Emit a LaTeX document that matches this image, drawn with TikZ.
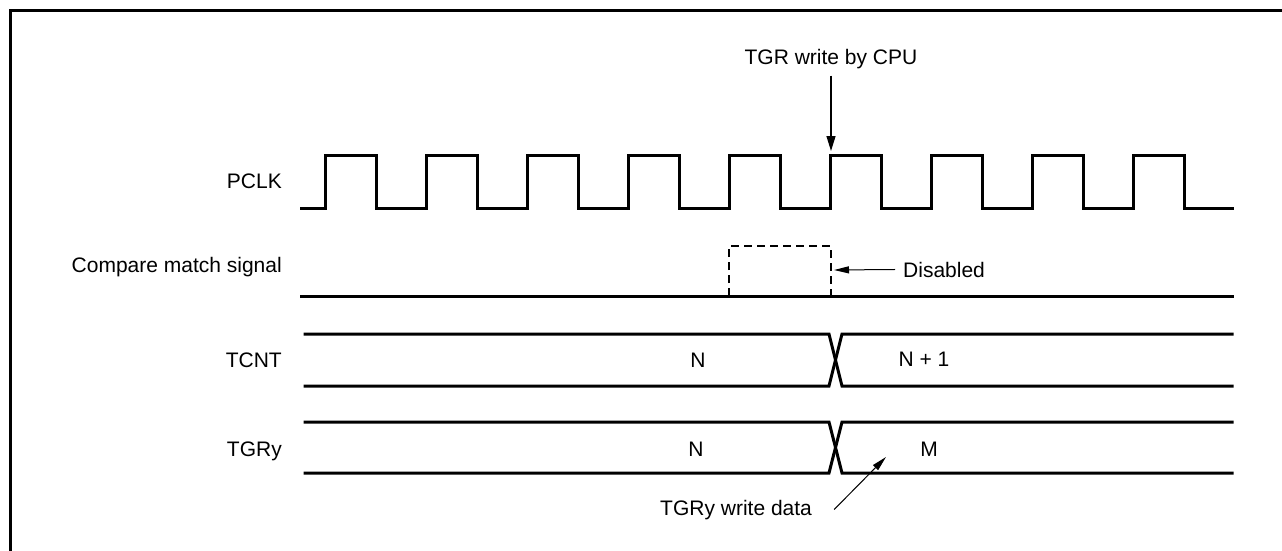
\documentclass[tikz,border=0pt]{standalone}
\usepackage{fontspec}
\setmainfont{Liberation Sans}
\usetikzlibrary{arrows.meta}

\tikzset{
  wave/.style={line width=3pt,line join=miter,line cap=rect},
  txt/.style={font=\fontsize{21}{25}\selectfont,inner sep=0pt},
  note/.style={line width=1.3pt,-{Triangle[length=15pt,width=9pt]}},
  thinnote/.style={line width=1pt,-{Triangle[length=15pt,width=7pt]}}
}

\begin{document}
\begin{tikzpicture}[x=1pt,y=-1pt]
\useasboundingbox (0,0) rectangle (1282,551);
% frame
\draw[line width=3pt] (10,551) -- (10,10.5) -- (1282,10.5);

% signal names
\node[txt,anchor=base east] (pclk) at (282,188) {PCLK};
\node[txt,anchor=base east] (cmp) at (282,272) {Compare match signal};
\node[txt,anchor=base east] (tcnt) at (282,367) {TCNT};
\node[txt,anchor=base east] (tgry) at (282,456) {TGRy};

% PCLK
\draw[wave] (301,208) \foreach \i in {0,...,8} {
  -- ({325+101*\i},208) -- ({325+101*\i},155.5) -- ({376+101*\i},155.5) -- ({376+101*\i},208)
} -- (1232,208);

% compare match signal
\draw[wave] (301,296) -- (1232,296);
\draw[line width=2pt,dashed,dash pattern=on 8pt off 5pt] (729,296) -- (729,246) -- (831,246) -- (831,296);

% TCNT
\draw[wave] (305,334) -- (829,334) -- (842,386) -- (1232,386);
\draw[wave] (305,386) -- (829,386) -- (842,334) -- (1232,334);
\node[txt,anchor=base] (tcntn) at (698,367) {N};
\node[txt,anchor=base] (tcntn1) at (924,366) {N + 1};

% TGRy
\draw[wave] (305,422) -- (829,422) -- (842,473) -- (1232,473);
\draw[wave] (305,473) -- (829,473) -- (842,422) -- (1232,422);
\node[txt,anchor=base] (tgryn) at (696,456) {N};
\node[txt,anchor=base] (tgrym) at (929,456) {M};

% notes
\node[txt,anchor=base] (cpu) at (831,65) {TGR write by CPU};
\coordinate (cpuedge) at (831,151);
\draw[note] (cpu.south) ++(0,6) -- (cpuedge);

\node[txt,anchor=base west] (dis) at (903,277) {Disabled};
\coordinate (disedge) at (834,270);
\draw[thinnote] (dis.west) ++(-8,0) -- (disedge);

\node[txt,anchor=base west] (wdata) at (660,515) {TGRy write data};
\coordinate (wdatatip) at (886,457);
\draw[thinnote] (wdata.east) ++(22,0) -- (wdatatip);
\end{tikzpicture}
\end{document}
